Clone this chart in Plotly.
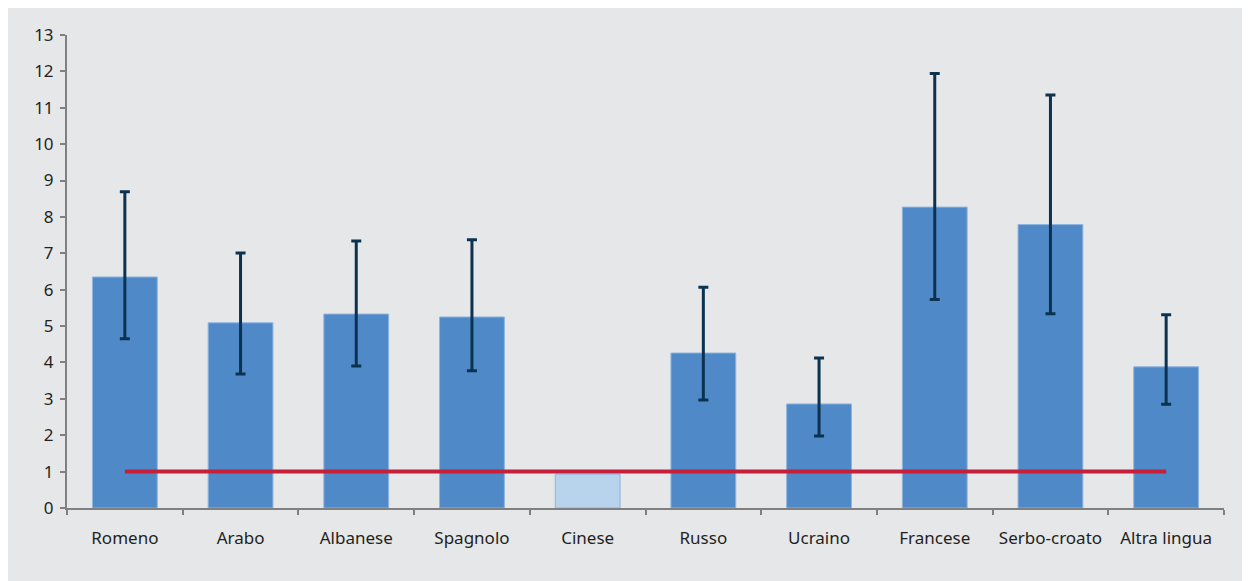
import plotly.graph_objects as go

lingue = ["Romeno", "Arabo", "Albanese", "Spagnolo", "Cinese", "Russo",
          "Ucraino", "Francese", "Serbo-croato", "Altra lingua"]
valori = [6.35, 5.09, 5.33, 5.25, 0.93, 4.26, 2.86, 8.27, 7.79, 3.88]
ic_sup = [8.69, 7.01, 7.34, 7.37, None, 6.07, 4.12, 11.94, 11.35, 5.31]
ic_inf = [4.65, 3.68, 3.90, 3.77, None, 2.97, 1.98, 5.73, 5.34, 2.85]
riferimento = [1, 1]

colori = ["#4f89c8"] * len(lingue)
colori[lingue.index("Cinese")] = "#b8d4ed"

fig = go.Figure()
fig.add_trace(go.Bar(
    x=lingue, y=valori,
    marker=dict(color=colori, line=dict(color="#8fb4de", width=1)),
    showlegend=False, hoverinfo="x+y",
))

# confidence intervals only where available (none for Cinese)
con_ic = [i for i, s in enumerate(ic_sup) if s is not None]
fig.add_trace(go.Scatter(
    x=[lingue[i] for i in con_ic], y=[valori[i] for i in con_ic],
    mode="markers", marker=dict(size=1, opacity=0),
    error_y=dict(type="data", symmetric=False,
                 array=[ic_sup[i] - valori[i] for i in con_ic],
                 arrayminus=[valori[i] - ic_inf[i] for i in con_ic],
                 color="#0b3350", thickness=3, width=5),
    showlegend=False,
))
fig.add_trace(go.Scatter(
    x=[lingue[0], lingue[-1]], y=riferimento, mode="lines",
    line=dict(color="#c4203b", width=4), showlegend=False,
))

fig.update_layout(
    width=1250, height=581,
    margin=dict(l=59, r=34, t=27, b=81),
    paper_bgcolor="#e6e7e9", plot_bgcolor="#e6e7e9",
    bargap=0.44,
    font=dict(family="Noto Sans", size=17, color="#231f20"),
)
fig.update_xaxes(range=[-0.5, len(lingue) - 0.5],
                 showline=True, linecolor="#808080", linewidth=2,
                 ticks="outside", tickson="boundaries", ticklen=5,
                 tickcolor="#808080", tickwidth=2, showgrid=False,
                 ticklabelstandoff=14)
fig.update_yaxes(range=[0, 13], dtick=1, showline=True, linecolor="#808080",
                 linewidth=2, ticks="outside", ticklen=5, tickcolor="#808080",
                 tickwidth=2, showgrid=False, zeroline=False,
                 ticklabelstandoff=3)

fig.write_html("out.html")
